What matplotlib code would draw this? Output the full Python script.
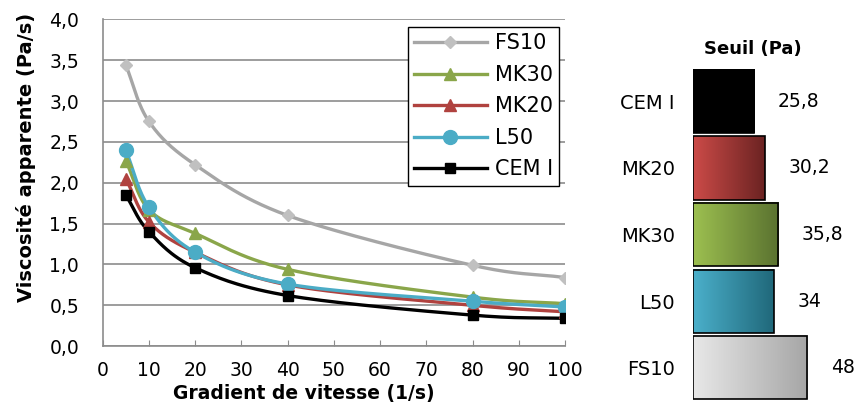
import numpy as np
import matplotlib
matplotlib.use("Agg")
import matplotlib.pyplot as plt
from matplotlib.colors import LinearSegmentedColormap
from matplotlib.ticker import FuncFormatter

plt.rcParams["font.family"] = ["DejaVu Sans"]

# shear rate (1/s)
gradient = [5, 10, 20, 40, 80, 100]
# apparent viscosity (Pa/s)
fs10 = [3.44, 2.75, 2.22, 1.60, 0.99, 0.84]
mk30 = [2.27, 1.67, 1.38, 0.94, 0.60, 0.52]
mk20 = [2.05, 1.52, 1.15, 0.75, 0.50, 0.42]
l50 = [2.40, 1.70, 1.15, 0.76, 0.55, 0.48]
cem1 = [1.85, 1.40, 0.96, 0.62, 0.38, 0.34]

# yield stress
seuil_labels = ["CEM I", "MK20", "MK30", "L50", "FS10"]
seuil_values = [25.8, 30.2, 35.8, 34, 48]


def smooth(x, y, n=30):
    # Catmull-Rom curve through the points, like Excel's smoothed line
    x = np.asarray(x, float)
    y = np.asarray(y, float)
    px = np.concatenate([[2 * x[0] - x[1]], x, [2 * x[-1] - x[-2]]])
    py = np.concatenate([[2 * y[0] - y[1]], y, [2 * y[-1] - y[-2]]])
    xs, ys = [], []
    t = np.linspace(0, 1, n)
    for i in range(1, len(px) - 2):
        for p, out in ((px, xs), (py, ys)):
            p0, p1, p2, p3 = p[i - 1], p[i], p[i + 1], p[i + 2]
            m1 = (p2 - p0) / 6
            m2 = (p3 - p1) / 6
            b = (1 - t) ** 3 * p1 + 3 * (1 - t) ** 2 * t * (p1 + m1) \
                + 3 * (1 - t) * t ** 2 * (p2 - m2) + t ** 3 * p2
            out.extend(b)
    return xs, ys


fig = plt.figure(figsize=(8.56, 4.03), dpi=100)
ax = fig.add_axes([0.120, 0.141, 0.540, 0.811])

series = [
    ("FS10", fs10, "#A6A6A6", "#C0C0C0", "D", 6),
    ("MK30", mk30, "#8AA64A", "#8AA64A", "^", 9),
    ("MK20", mk20, "#B0423F", "#B0423F", "^", 9),
    ("L50", l50, "#4BACC6", "#4BACC6", "o", 10),
    ("CEM I", cem1, "#000000", "#000000", "s", 6.5),
]
handles = []
for name, vals, col, mcol, mk, ms in series:
    sx, sy = smooth(gradient, vals)
    ax.plot(sx, sy, color=col, lw=2.4, zorder=3, solid_capstyle="round")
    ax.plot(gradient, vals, ls="none", marker=mk, ms=ms, color=mcol, zorder=4)
    h, = ax.plot([], [], color=col, lw=2.4, marker=mk, ms=ms, mfc=mcol, mec=mcol, label=name)
    handles.append(h)

ax.set_xlim(0, 100)
ax.set_ylim(0, 4)
ax.set_xticks(np.arange(0, 101, 10))
ax.set_yticks(np.arange(0, 4.01, 0.5))
ax.yaxis.set_major_formatter(FuncFormatter(lambda v, p: f"{v:.1f}".replace(".", ",")))
ax.grid(axis="y", color="#8C8C8C", lw=1.2)
ax.set_axisbelow(True)
for s in ["top", "right"]:
    ax.spines[s].set_visible(False)
for s in ["left", "bottom"]:
    ax.spines[s].set_color("#8C8C8C")
    ax.spines[s].set_linewidth(1.2)
ax.tick_params(axis="x", direction="in", length=4, color="#8C8C8C", labelsize=13.5, pad=11)
ax.tick_params(axis="y", length=0, labelsize=13.5, pad=17)
ax.set_xlabel("Gradient de vitesse (1/s)", fontsize=13.5, fontweight="bold")
ax.xaxis.set_label_coords(0.435, -0.115)
ax.set_ylabel("Viscosité apparente (Pa/s)", fontsize=14, fontweight="bold")
ax.yaxis.set_label_coords(-0.145, 0.578)

leg = ax.legend(handles=handles, loc="upper right", bbox_to_anchor=(0.988, 0.976),
                fontsize=15, frameon=True, fancybox=False, framealpha=1,
                handlelength=3.5, handletextpad=0.4, labelspacing=0.55, borderpad=0.3,
                borderaxespad=0)
leg.get_frame().set_edgecolor("black")
leg.get_frame().set_linewidth(1.0)

# yield stress bars
bx = fig.add_axes([0.8096, 0.0048, 0.1904, 0.8263])
bar_colors = [
    ("#000000", "#000000"),
    ("#CC4B48", "#6B2322"),
    ("#9DC050", "#5A7230"),
    ("#4BB0CB", "#20687A"),
    ("#E8E8E8", "#A6A6A6"),
]
grad = np.linspace(0, 1, 256).reshape(1, -1)
h = 0.95
for i, (v, (c0, c1)) in enumerate(zip(seuil_values, bar_colors)):
    cmap = LinearSegmentedColormap.from_list("g%d" % i, [c0, c1])
    bx.imshow(grad, extent=[0, v, i + h / 2, i - h / 2], aspect="auto", cmap=cmap, zorder=2)
bx.barh(range(len(seuil_values)), seuil_values, height=h, color="none",
        edgecolor="black", lw=1.2, zorder=3)
for i, v in enumerate(seuil_values):
    bx.annotate(f"{v:g}".replace(".", ","), (v, i), xytext=(17, 0),
                textcoords="offset points", va="center", ha="left", fontsize=13.5)
bx.set_xlim(0, 68.5)
bx.set_ylim(4.5, -0.5)
bx.set_yticks(range(len(seuil_labels)))
bx.set_yticklabels(seuil_labels, fontsize=14)
bx.tick_params(axis="y", length=0, pad=13)
bx.set_xticks([])
for s in bx.spines.values():
    s.set_visible(False)
bx.set_title("Seuil (Pa)", fontsize=13, fontweight="bold", pad=10, loc="left", x=0.07)

fig.savefig("out.png", dpi=100)
